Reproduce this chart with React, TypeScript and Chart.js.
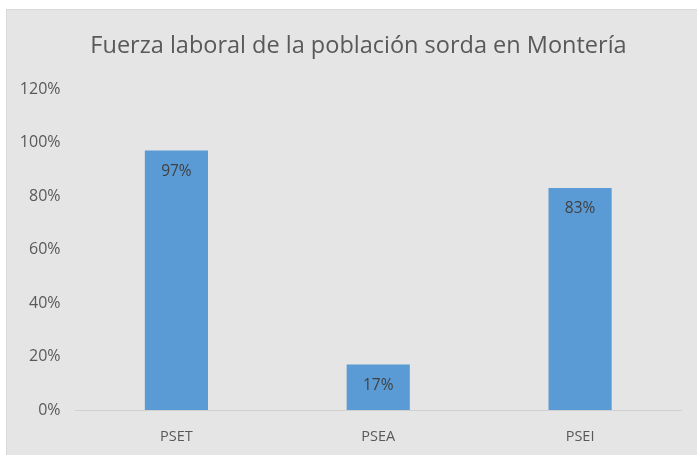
import React, { useEffect, useRef } from "react";
import { Chart, registerables } from "chart.js";

Chart.register(...registerables);

const categories = ["PSET", "PSEA", "PSEI"];
const values = [97, 17, 83];
const tickValues = [0, 20, 40, 60, 80, 100, 120];
const titleText = "Fuerza laboral de la población sorda en Montería";

const FONT = "'Open Sans', 'Noto Sans', sans-serif";

const valueLabels = {
  id: "valueLabels",
  afterDatasetsDraw(chart: any) {
    const ctx = chart.ctx;
    const meta = chart.getDatasetMeta(0);
    ctx.save();
    ctx.font = `15.5px ${FONT}`;
    ctx.fillStyle = "#404040";
    ctx.textAlign = "center";
    ctx.textBaseline = "middle";
    meta.data.forEach((bar: any, i: number) => {
      ctx.fillText(values[i] + "%", bar.x, bar.y + 21);
    });
    ctx.restore();
  },
};

// Title drawn centred over the Excel-style title area (slightly right of canvas centre)
const chartTitle = {
  id: "chartTitle",
  afterDraw(chart: any) {
    const ctx = chart.ctx;
    ctx.save();
    ctx.font = `23.5px ${FONT}`;
    ctx.fillStyle = "#595959";
    ctx.textAlign = "center";
    ctx.textBaseline = "middle";
    ctx.fillText(titleText, (30 + chart.chartArea.right) / 2, 37);
    ctx.restore();
  },
};

export default function App() {
  const ref = useRef<HTMLCanvasElement>(null);
  useEffect(() => {
    if (!ref.current) return;
    const chart = new Chart(ref.current, {
      type: "bar",
      data: {
        labels: categories,
        datasets: [
          {
            data: values,
            backgroundColor: "#5b9bd5",
            borderWidth: 0,
            categoryPercentage: 1,
            barPercentage: 0.313,
          },
        ],
      },
      options: {
        animation: false,
        responsive: false,
        maintainAspectRatio: false,
        layout: { padding: { top: 80, right: 16, bottom: 10, left: 0 } },
        plugins: {
          legend: { display: false },
          tooltip: { enabled: false },
          title: { display: false },
        },
        scales: {
          x: {
            afterFit: (scale: any) => {
              scale.height = 35;
            },
            grid: { display: false, drawTicks: false },
            border: { display: true, color: "#d0d0d0", width: 1 },
            ticks: {
              color: "#595959",
              font: { family: FONT, size: 14.5 },
              padding: 18,
            },
          },
          y: {
            min: 0,
            max: 120,
            afterFit: (scale: any) => {
              scale.width = 69.5;
            },
            afterBuildTicks: (scale: any) => {
              scale.ticks = tickValues.map((v) => ({ value: v }));
            },
            grid: { display: false, drawTicks: false },
            border: { display: false },
            ticks: {
              color: "#595959",
              font: { family: FONT, size: 16 },
              padding: 15,
              callback: (v: any) => v + "%",
            },
          },
        },
      },
      plugins: [valueLabels, chartTitle],
    });
    return () => chart.destroy();
  }, []);

  return (
    <div
      style={{
        position: "fixed",
        left: 0,
        top: 0,
        width: 697,
        height: 455,
        background: "#ffffff",
      }}
    >
      <div
        style={{
          position: "absolute",
          left: 6,
          top: 9,
          width: 691,
          height: 446,
          background: "#e5e5e5",
          boxShadow: "inset 1px 1px 0 #d9d9d9",
        }}
      >
        <canvas ref={ref} width={691} height={446} style={{ display: "block" }} />
      </div>
    </div>
  );
}
